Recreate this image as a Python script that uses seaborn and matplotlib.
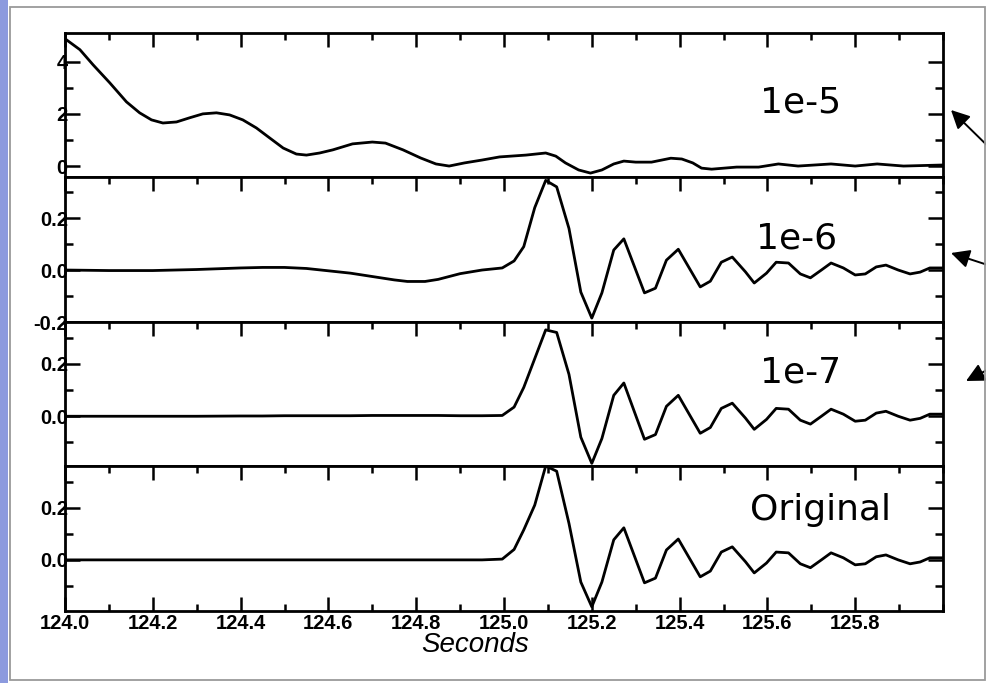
# plot.py  -  stacked seismogram traces: filtered (1e-5, 1e-6, 1e-7) vs original

import numpy as np
import pandas as pd
import matplotlib
matplotlib.use("Agg")
import matplotlib.pyplot as plt
from matplotlib.patches import Rectangle, FancyArrowPatch
from matplotlib.ticker import FixedLocator, MultipleLocator, NullFormatter
import seaborn as sns


# ----------------------------------------------------------
# Data
# ----------------------------------------------------------
# 1e-5 : smooth, long-period trace
t_1e5 = [124.00, 124.034, 124.064, 124.102, 124.14, 124.17, 124.197, 124.223,
         124.254, 124.284, 124.314, 124.345, 124.375, 124.405, 124.436, 124.466,
         124.497, 124.527, 124.55, 124.58, 124.61, 124.655, 124.70, 124.73,
         124.77, 124.81, 124.845, 124.875, 124.91, 124.95, 124.99, 125.05,
         125.095, 125.118, 125.14, 125.17, 125.197, 125.223, 125.25, 125.273,
         125.30, 125.336, 125.38, 125.405, 125.43, 125.45, 125.473, 125.53,
         125.58, 125.625, 125.67, 125.745, 125.80, 125.85, 125.91, 126.00]
v_1e5 = [4.88, 4.46, 3.88, 3.19, 2.46, 2.04, 1.77, 1.65,
         1.69, 1.85, 2.00, 2.04, 1.96, 1.77, 1.46, 1.08,
         0.69, 0.46, 0.42, 0.50, 0.62, 0.85, 0.92, 0.88,
         0.62, 0.31, 0.08, 0.00, 0.12, 0.23, 0.35, 0.42,
         0.50, 0.38, 0.12, -0.15, -0.27, -0.15, 0.08, 0.19,
         0.15, 0.15, 0.30, 0.27, 0.12, -0.08, -0.12, -0.04,
         -0.04, 0.08, 0.00, 0.08, 0.00, 0.08, 0.00, 0.04]

# lead-in before the first arrival
t_lead = [124.00, 124.10, 124.20, 124.30, 124.40, 124.45, 124.50, 124.55,
          124.60, 124.65, 124.70, 124.75, 124.78, 124.82, 124.85, 124.90,
          124.95, 124.996]
lead_1e6 = [0.000, -0.002, -0.002, 0.002, 0.008, 0.010, 0.010, 0.006,
            -0.003, -0.012, -0.025, -0.038, -0.044, -0.044, -0.036, -0.014,
            0.000, 0.008]
lead_1e7 = [0.000, 0.000, 0.000, 0.000, 0.001, 0.001, 0.002, 0.002,
            0.002, 0.002, 0.003, 0.003, 0.003, 0.003, 0.003, 0.002,
            0.002, 0.003]
lead_orig = [0.000, 0.000, 0.000, 0.000, 0.000, 0.000, 0.000, 0.000,
             0.000, 0.000, 0.000, 0.000, 0.000, 0.000, 0.000, 0.000,
             0.000, 0.003]

# first arrival (differs slightly between traces)
t_arrival = [125.023, 125.045, 125.07, 125.095, 125.12, 125.148, 125.175,
             125.20, 125.223, 125.25, 125.273]
arr_1e6 = [0.035, 0.09, 0.24, 0.345, 0.32, 0.16, -0.085,
           -0.185, -0.088, 0.077, 0.12]
arr_1e7 = [0.035, 0.11, 0.22, 0.33, 0.32, 0.16, -0.08,
           -0.18, -0.085, 0.08, 0.127]
arr_orig = [0.04, 0.115, 0.21, 0.36, 0.34, 0.14, -0.085,
            -0.18, -0.085, 0.077, 0.123]

# ringing coda (same in the three lower traces)
t_coda = [125.32, 125.345, 125.37, 125.397, 125.447, 125.47, 125.495, 125.52,
          125.55, 125.57, 125.598, 125.62, 125.648, 125.675, 125.698, 125.723,
          125.745, 125.773, 125.80, 125.823, 125.848, 125.87, 125.898, 125.925,
          125.948, 125.97, 126.00]
v_coda = [-0.088, -0.07, 0.038, 0.08, -0.065, -0.043, 0.03, 0.05,
          -0.007, -0.05, -0.012, 0.03, 0.027, -0.015, -0.03, 0.0,
          0.027, 0.008, -0.019, -0.015, 0.012, 0.019, 0.0, -0.015,
          -0.008, 0.008, 0.008]

panel_names = ["1e-5", "1e-6", "1e-7", "Original"]

x_major = [124.0, 124.2, 124.4, 124.6, 124.8, 125.0, 125.2, 125.4, 125.6, 125.8]
x_labels = ["124.0", "124.2", "124.4", "124.6", "124.8",
            "125.0", "125.2", "125.4", "125.6", "125.8"]

y_major = [[0, 2, 4], [-0.2, 0.0, 0.2], [0.0, 0.2], [0.0, 0.2]]
y_labels = [["0", "2", "4"], ["-0.2", "0.0", "0.2"], ["0.0", "0.2"], ["0.0", "0.2"]]
y_minor = [[1, 3], [-0.1, 0.1, 0.3], [-0.1, 0.1, 0.3], [-0.1, 0.1, 0.3]]
y_limits = [(-0.42, 5.1), (-0.2, 0.358), (-0.19, 0.36), (-0.196, 0.36)]


def build_frame():
    rows = [pd.DataFrame({"t": t_1e5, "v": v_1e5, "panel": "1e-5"})]
    leads = {"1e-6": (lead_1e6, arr_1e6),
             "1e-7": (lead_1e7, arr_1e7),
             "Original": (lead_orig, arr_orig)}
    for name, (lead, arr) in leads.items():
        t = t_lead + t_arrival + t_coda
        v = lead + arr + v_coda
        rows.append(pd.DataFrame({"t": t, "v": v, "panel": name}))
    return pd.concat(rows, ignore_index=True)


# ----------------------------------------------------------
# Plot
# ----------------------------------------------------------
def main():
    sns.set_style("ticks")
    plt.rcParams["font.family"] = ["DejaVu Sans"]
    plt.rcParams["text.color"] = "black"
    plt.rcParams["xtick.color"] = "black"
    plt.rcParams["ytick.color"] = "black"

    df = build_frame()

    W, H = 987, 683
    fig = plt.figure(figsize=(W / 100, H / 100), dpi=100)
    fig.patch.set_facecolor("white")

    # slide decoration: blue strip + grey frame
    fig.patches.append(Rectangle((0, 0), 8 / W, 1, transform=fig.transFigure,
                                 facecolor="#8c9ade", edgecolor="none"))
    fig.patches.append(Rectangle((9.5 / W, 3 / H), (985.5 - 9.5) / W, (676 - 3) / H,
                                 transform=fig.transFigure, facecolor="none",
                                 edgecolor="#9a9a9a", lw=1.3))

    left_px, right_px = 65, 943
    edges_px = [33, 177, 322, 466, 611]
    tick_font = dict(family=["Liberation Sans", "DejaVu Sans"],
                     weight="bold", size=14.5, color="black")
    text_pos = [(0.838, 0.451), (0.833, 0.51), (0.838, 0.583), (0.86, 0.628)]

    for i, name in enumerate(panel_names):
        top, bot = edges_px[i], edges_px[i + 1]
        ax = fig.add_axes([left_px / W, 1 - bot / H,
                           (right_px - left_px) / W, (bot - top) / H])
        sns.lineplot(data=df[df["panel"] == name], x="t", y="v", ax=ax,
                     color="black", lw=2.0, sort=False, estimator=None)
        ax.set_xlim(124.0, 126.0)
        ax.set_ylim(*y_limits[i])
        ax.set_xlabel("")
        ax.set_ylabel("")

        for sp in ax.spines.values():
            sp.set_visible(True)
            sp.set_linewidth(2.0)
            sp.set_color("black")

        last = i == len(panel_names) - 1
        ax.xaxis.set_major_locator(FixedLocator(x_major))
        ax.xaxis.set_minor_locator(MultipleLocator(0.1))
        ax.tick_params(axis="x", which="both", direction="in", top=True,
                       bottom=last, labelbottom=last, width=1.8, pad=2)
        ax.tick_params(axis="x", which="major", length=10)
        ax.tick_params(axis="x", which="minor", length=5)

        ax.yaxis.set_major_locator(FixedLocator(y_major[i]))
        ax.yaxis.set_minor_locator(FixedLocator(y_minor[i]))
        ax.tick_params(axis="y", which="both", direction="in", left=True,
                       right=True, width=1.8, pad=-2)
        ax.tick_params(axis="y", which="major", length=11)
        ax.tick_params(axis="y", which="minor", length=6)

        # labels last, so tick_params does not reset their font
        if last:
            ax.set_xticks(x_major, x_labels, **tick_font)
        else:
            ax.xaxis.set_major_formatter(NullFormatter())
        ax.set_yticks(y_major[i], y_labels[i], **tick_font)

        tx, ty = text_pos[i]
        ax.text(tx, ty, name, transform=ax.transAxes, ha="center",
                va="baseline", fontsize=26, color="black")

    fig.text(475 / W, 1 - 652 / H, "Seconds", ha="center", va="baseline",
             fontsize=20, style="italic", color="black",
             family=["Liberation Sans", "DejaVu Sans"])

    # arrows on the right edge (pointing back at the traces)
    arrows = [((951, H - 110), (1000, H - 158)),
              ((951, H - 253), (1000, H - 269)),
              ((966, H - 381), (1012, H - 357))]
    for tip, tail in arrows:
        fig.add_artist(FancyArrowPatch(
            tail, tip, transform=None, arrowstyle="-|>", mutation_scale=28,
            lw=1.4, color="black", shrinkA=0, shrinkB=0))

    fig.savefig("out.png", dpi=100, facecolor="white")
    plt.close(fig)


if __name__ == "__main__":
    main()
